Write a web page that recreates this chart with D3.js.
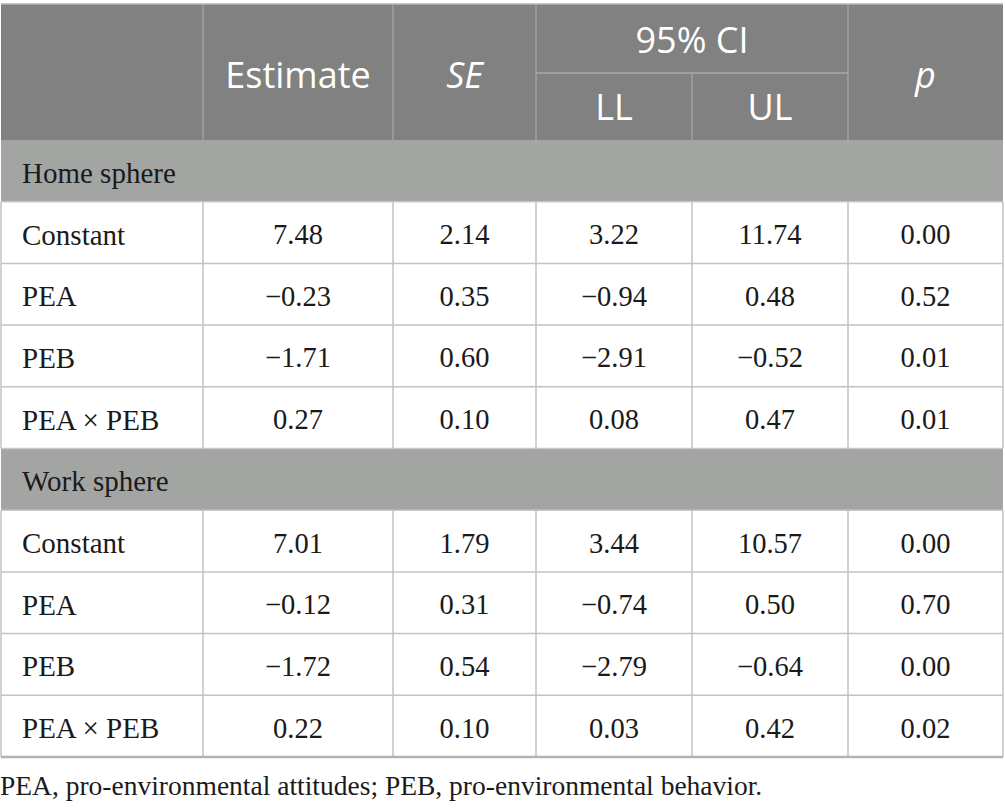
<!doctype html>
<meta charset="utf-8" />
<style>
  body { margin: 0; background: #fff; }
</style>
<svg></svg>

<script src="https://cdn.jsdelivr.net/npm/d3@7"></script>

<script>
    // table content
    var sections = ['Home sphere', 'Work sphere'];
    var terms = ['Constant', 'PEA', 'PEB', 'PEA \u00d7 PEB'];
    var estimate = [[7.48, -0.23, -1.71, 0.27], [7.01, -0.12, -1.72, 0.22]];
    var se = [[2.14, 0.35, 0.60, 0.10], [1.79, 0.31, 0.54, 0.10]];
    var ll = [[3.22, -0.94, -2.91, 0.08], [3.44, -0.74, -2.79, 0.03]];
    var ul = [[11.74, 0.48, -0.52, 0.47], [10.57, 0.50, -0.64, 0.42]];
    var pval = [[0.00, 0.52, 0.01, 0.01], [0.00, 0.70, 0.00, 0.02]];
    var note = 'PEA, pro-environmental attitudes; PEB, pro-environmental behavior.';

    var W = 1005, H = 810;
    var svg = d3.select('svg')
        .attr('width', W)
        .attr('height', H)

    // column edges
    var edges = [1, 203, 393, 536, 692, 848, 1003];
    var headTop = 4, headMid = 73, headBot = 140, tableBot = 757;

    // body rows: section row + 4 term rows, twice
    var rows = [];
    sections.forEach(function (s, si) {
        rows.push({ type: 'section', label: s });
        terms.forEach(function (t, ti) {
            rows.push({
                type: 'data', label: t,
                vals: [estimate[si][ti], se[si][ti], ll[si][ti], ul[si][ti], pval[si][ti]]
            });
        });
    });

    var y = d3.scaleBand()
        .domain(d3.range(rows.length))
        .range([headBot, tableBot])
        .padding(0);

    var fmt = function (v) {
        var s = d3.format('.2f')(Math.abs(v));
        return v < 0 ? '\u2212' + s : s;
    };

    var serif = '"Liberation Serif", "Times New Roman", serif';
    var sans = '"Open Sans", "Noto Sans", sans-serif';

    // header background
    svg.append('rect')
        .attr('x', edges[0]).attr('y', headTop)
        .attr('width', edges[6] - edges[0]).attr('height', headBot - headTop)
        .attr('fill', '#808180')

    // row backgrounds
    svg.selectAll('rect.row')
        .data(rows)
        .enter().append('rect')
        .attr('class', 'row')
        .attr('x', edges[0])
        .attr('y', function (d, i) { return y(i); })
        .attr('width', edges[6] - edges[0])
        .attr('height', y.bandwidth())
        .attr('fill', function (d) { return d.type === 'section' ? '#a3a5a3' : '#fff'; })

    // header grid lines
    var hl = '#a9aaa9';
    svg.append('line').attr('x1', edges[0]).attr('x2', edges[6])
        .attr('y1', headTop).attr('y2', headTop)
        .attr('stroke', '#b5b5b5').attr('stroke-width', 1.5)
    ;[1, 2, 3, 5].forEach(function (k) {
        svg.append('line').attr('x1', edges[k]).attr('x2', edges[k])
            .attr('y1', headTop).attr('y2', headBot)
            .attr('stroke', hl).attr('stroke-width', 1.2)
    });
    svg.append('line').attr('x1', edges[4]).attr('x2', edges[4])
        .attr('y1', headMid).attr('y2', headBot)
        .attr('stroke', hl).attr('stroke-width', 1.2)
    svg.append('line').attr('x1', edges[3]).attr('x2', edges[5])
        .attr('y1', headMid).attr('y2', headMid)
        .attr('stroke', hl).attr('stroke-width', 1.5)

    // header text
    var head = svg.append('g')
        .attr('font-family', sans)
        .attr('font-size', 36)
        .attr('fill', '#fff')
        .attr('text-anchor', 'middle')
        .attr('dominant-baseline', 'central')
    var cx = function (k) { return (edges[k] + edges[k + 1]) / 2; };
    head.append('text').attr('x', cx(1)).attr('y', 74).text('Estimate')
    head.append('text').attr('x', cx(2)).attr('y', 74).attr('font-style', 'italic').text('SE')
    head.append('text').attr('x', (edges[3] + edges[5]) / 2).attr('y', 39).text('95% CI')
    head.append('text').attr('x', cx(3)).attr('y', 106).text('LL')
    head.append('text').attr('x', cx(4)).attr('y', 106).text('UL')
    head.append('text').attr('x', cx(5)).attr('y', 74).attr('font-style', 'italic').text('p')

    // body grid lines
    var bl = '#c2c2c2';
    var dataRows = rows.map(function (d, i) { return i; }).filter(function (i) { return rows[i].type === 'data'; });
    svg.selectAll('line.h')
        .data(d3.range(1, rows.length))
        .enter().append('line')
        .attr('class', 'h')
        .attr('x1', edges[0]).attr('x2', edges[6])
        .attr('y1', function (i) { return y(i); })
        .attr('y2', function (i) { return y(i); })
        .attr('stroke', function (i) { return rows[i].type === 'section' || rows[i - 1].type === 'section' ? '#c8c8c8' : bl; })
        .attr('stroke-width', 1.5)
    dataRows.forEach(function (i) {
        edges.forEach(function (ex) {
            svg.append('line').attr('x1', ex).attr('x2', ex)
                .attr('y1', y(i)).attr('y2', y(i) + y.bandwidth())
                .attr('stroke', bl).attr('stroke-width', 1.5)
        });
    });
    svg.append('line').attr('x1', edges[0]).attr('x2', edges[6])
        .attr('y1', tableBot).attr('y2', tableBot)
        .attr('stroke', '#b3b3b3').attr('stroke-width', 2.5)

    // body text
    var body = svg.append('g')
        .attr('font-family', serif)
        .attr('fill', '#1a1a1a')
        .attr('dominant-baseline', 'central')

    body.selectAll('text.label')
        .data(rows)
        .enter().append('text')
        .attr('class', 'label')
        .attr('x', 22)
        .attr('y', function (d, i) { return y(i) + y.bandwidth() / 2 + 2; })
        .attr('font-size', 29)
        .text(function (d) { return d.label; })

    rows.forEach(function (d, i) {
        if (d.type !== 'data') return;
        body.selectAll(null)
            .data(d.vals)
            .enter().append('text')
            .attr('x', function (v, k) { return cx(k + 1); })
            .attr('y', y(i) + y.bandwidth() / 2 + 2)
            .attr('text-anchor', 'middle')
            .attr('font-size', 28.5)
            .text(fmt)
    });

    // footnote
    svg.append('text')
        .attr('x', 0)
        .attr('y', 795)
        .attr('font-family', serif)
        .attr('font-size', 27.5)
        .attr('fill', '#1a1a1a')
        .text(note)
</script>
